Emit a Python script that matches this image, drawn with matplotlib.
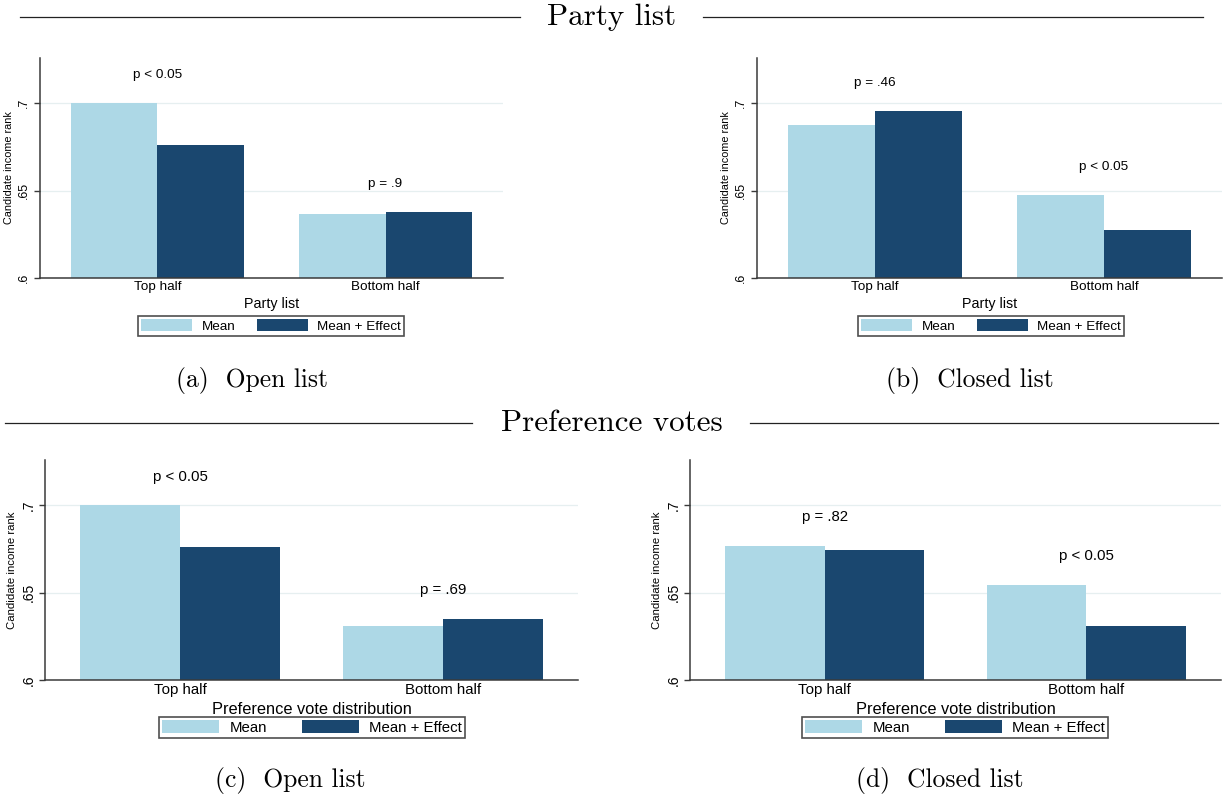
import matplotlib
matplotlib.use("Agg")
import matplotlib.pyplot as plt
import numpy as np
from matplotlib.lines import Line2D

# ---------------- data ----------------
categories = ["Top half", "Bottom half"]
series_names = ["Mean", "Mean + Effect"]

a_mean = [0.700, 0.6365]
a_effect = [0.676, 0.6377]
a_p = ["p < 0.05", "p = .9"]

b_mean = [0.6876, 0.6474]
b_effect = [0.6956, 0.6275]
b_p = ["p = .46", "p < 0.05"]

c_mean = [0.700, 0.6307]
c_effect = [0.6762, 0.6351]
c_p = ["p < 0.05", "p = .69"]

d_mean = [0.6768, 0.6546]
d_effect = [0.6745, 0.6308]
d_p = ["p = .82", "p < 0.05"]

y_ticks = [0.6, 0.65, 0.7]
y_ticklabels = [".6", ".65", ".7"]

header_top = "Party list"
header_bottom = "Preference votes"
xlabel_top = "Party list"
xlabel_bottom = "Preference vote distribution"
ylabel = "Candidate income rank"
captions = ["(a)  Open list", "(b)  Closed list", "(c)  Open list", "(d)  Closed list"]

# ---------------- style ----------------
W, H = 1225, 797
LIGHT = "#add8e6"
DARK = "#1a476f"
GRID = "#e6eff0"
AXC = "#3a3a3a"
SANS = ["Liberation Sans", "DejaVu Sans"]
SERIF = ["cmr10", "DejaVu Serif"]

fig = plt.figure(figsize=(W / 100, H / 100), dpi=100)
fig.patch.set_facecolor("white")


def rect(l, r, t, b):
    return [l / W, 1 - b / H, (r - l) / W, (b - t) / H]


def panel(box, mean, effect, ptexts, xlabel, fs, xlfs, ylfs, leg_center, colsp):
    ax = fig.add_axes(rect(*box))
    x = np.arange(len(categories))
    w = 0.38
    b1 = ax.bar(x - w / 2, mean, w, color=LIGHT, linewidth=0, label=series_names[0], zorder=2)
    b2 = ax.bar(x + w / 2, effect, w, color=DARK, linewidth=0, label=series_names[1], zorder=2)
    ax.set_ylim(0.6, 0.726)
    ax.set_xlim(-0.515, 1.515)
    ax.set_yticks(y_ticks)
    ax.set_yticklabels(y_ticklabels, rotation=90, ha="right", va="center",
                       family=SANS, fontsize=fs - 0.8)
    ax.tick_params(axis="y", length=4, width=1, color=AXC, pad=3)
    ax.set_xticks(x)
    ax.set_xticklabels(categories, family=SANS, fontsize=fs)
    ax.tick_params(axis="x", length=0, pad=2.5)
    ax.set_xlabel(xlabel, family=SANS, fontsize=xlfs, labelpad=3)
    ax.set_ylabel(ylabel, family=SANS, fontsize=ylfs, labelpad=3)
    ax.grid(axis="y", color=GRID, linewidth=0.9, zorder=0)
    ax.set_axisbelow(True)
    for s in ["top", "right"]:
        ax.spines[s].set_visible(False)
    for s in ["left", "bottom"]:
        ax.spines[s].set_color(AXC)
        ax.spines[s].set_linewidth(1.1)
    for i, txt in enumerate(ptexts):
        yy = max(mean[i], effect[i]) + 0.0163
        ax.text(x[i], yy, txt, ha="center", va="center", family=SANS, fontsize=fs)
    leg = ax.legend(handles=[b1, b2], loc="center",
                    bbox_to_anchor=(leg_center[0] / W, 1 - leg_center[1] / H),
                    bbox_transform=fig.transFigure, ncol=2, frameon=True,
                    fancybox=False, prop={"family": SANS, "size": fs},
                    handlelength=3.8, handleheight=0.9,
                    handletextpad=0.7, columnspacing=colsp, borderpad=0.22,
                    borderaxespad=0)
    leg.get_frame().set_edgecolor("#222222")
    leg.get_frame().set_linewidth(1.2)
    return ax


panel((40, 503, 58, 277.7), a_mean, a_effect, a_p, xlabel_top, 9.7, 10.3, 7.8, (271, 326), 1.6)
panel((757, 1222, 58, 277.7), b_mean, b_effect, b_p, xlabel_top, 9.7, 10.3, 7.8, (991, 326), 1.6)
panel((45, 578, 460, 680), c_mean, c_effect, c_p, xlabel_bottom, 10.8, 11.8, 8.2, (312, 727.5), 2.3)
panel((690, 1221, 460, 680), d_mean, d_effect, d_p, xlabel_bottom, 10.8, 11.8, 8.2, (955, 727.5), 2.3)


def fy(y):
    return 1 - y / H


fig.text(612 / W, fy(17), header_top, ha="center", va="center", family=SERIF, fontsize=22.4)
fig.add_artist(Line2D([20 / W, 520 / W], [fy(17), fy(17)], color="#222222", lw=0.9))
fig.add_artist(Line2D([703 / W, 1203 / W], [fy(17), fy(17)], color="#222222", lw=0.9))

fig.text(612 / W, fy(423), header_bottom, ha="center", va="center", family=SERIF, fontsize=22.4)
fig.add_artist(Line2D([5 / W, 472 / W], [fy(423), fy(423)], color="#222222", lw=0.9))
fig.add_artist(Line2D([750 / W, 1218 / W], [fy(423), fy(423)], color="#222222", lw=0.9))

for (cx, cy), cap in zip([(252, 381), (970, 381), (290, 781), (940, 781)], captions):
    fig.text(cx / W, fy(cy), cap, ha="center", va="center", family=SERIF, fontsize=18.4)

fig.savefig("out.png", dpi=100, facecolor="white")
